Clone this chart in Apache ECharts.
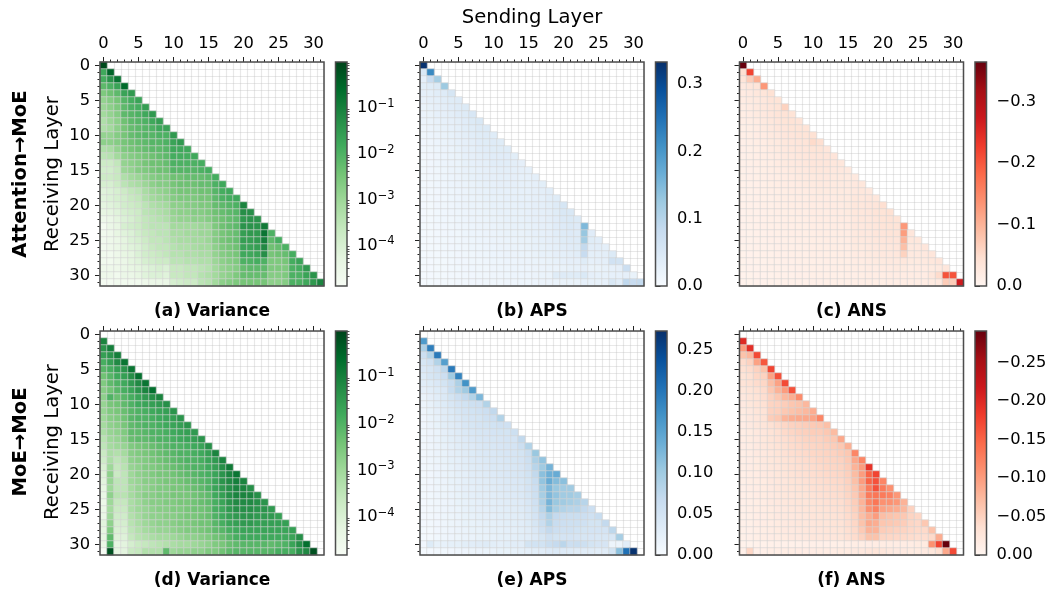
<!DOCTYPE html>
<html><head><meta charset="utf-8">
<script src="https://cdn.jsdelivr.net/npm/echarts@6/dist/echarts.min.js"></script>
<style>html,body{margin:0;padding:0;background:#fff}#c{width:1052px;height:595px}</style>
</head><body><div id="c"></div>
<script>
// Variance rows: log10(variance) in tenths. APS rows: thousandths. ANS rows: magnitude in thousandths (values are negative).
const varianceAttention=[
[-1],[-18,-5],[-19,-14,-8],[-22,-20,-17,-6],[-26,-24,-22,-17,-15],[-29,-27,-25,-21,-19,-17],
[-30,-28,-26,-22,-20,-19,-16],[-31,-29,-27,-22,-21,-20,-18,-15],[-33,-30,-28,-24,-22,-21,-20,-18,-16],
[-33,-31,-28,-25,-23,-22,-21,-20,-18,-17],[-29,-29,-27,-25,-23,-22,-21,-21,-20,-20,-15],
[-28,-28,-27,-25,-24,-23,-22,-21,-21,-20,-17,-15],[-33,-32,-29,-26,-25,-24,-23,-22,-22,-21,-18,-18,-18],
[-35,-34,-31,-28,-27,-26,-25,-24,-23,-22,-19,-19,-19,-18],[-38,-38,-36,-29,-28,-27,-25,-24,-24,-23,-20,-20,-20,-20,-19],
[-39,-39,-37,-30,-29,-27,-26,-25,-24,-24,-21,-21,-21,-21,-20,-19],
[-38,-38,-37,-33,-31,-30,-28,-27,-26,-26,-24,-24,-23,-23,-23,-22,-19],
[-40,-40,-38,-35,-33,-32,-30,-28,-27,-27,-25,-24,-24,-24,-23,-23,-20,-18],
[-42,-41,-40,-38,-36,-35,-32,-30,-29,-28,-26,-25,-25,-25,-24,-24,-21,-19,-18],
[-42,-41,-40,-39,-37,-36,-33,-31,-30,-29,-27,-26,-26,-26,-25,-25,-22,-20,-19,-18],
[-43,-42,-41,-39,-38,-37,-35,-33,-32,-31,-28,-28,-27,-27,-26,-26,-23,-22,-21,-20,-11],
[-44,-43,-42,-40,-39,-38,-35,-34,-33,-32,-29,-28,-28,-27,-27,-26,-24,-23,-22,-21,-13,-13],
[-46,-45,-43,-41,-40,-38,-36,-35,-34,-33,-30,-29,-29,-28,-28,-27,-25,-24,-23,-22,-15,-14,-14],
[-48,-45,-44,-40,-39,-38,-36,-35,-35,-35,-31,-31,-31,-31,-30,-30,-26,-24,-23,-22,-14,-14,-14,-9],
[-47,-46,-44,-42,-41,-39,-37,-36,-35,-35,-32,-32,-31,-31,-30,-30,-27,-25,-24,-23,-16,-15,-15,-8,-20],
[-47,-46,-45,-43,-41,-40,-38,-36,-36,-35,-33,-32,-32,-31,-31,-30,-27,-25,-24,-23,-16,-16,-15,-10,-22,-19],
[-47,-46,-45,-43,-42,-41,-39,-37,-36,-36,-34,-33,-33,-32,-31,-31,-28,-26,-25,-24,-17,-17,-16,-12,-24,-23,-20],
[-47,-47,-46,-44,-43,-41,-39,-38,-37,-36,-34,-34,-33,-33,-32,-32,-29,-27,-26,-25,-18,-18,-17,-13,-25,-24,-23,-19],
[-47,-47,-46,-45,-43,-42,-40,-39,-38,-38,-35,-35,-34,-34,-33,-33,-30,-28,-27,-26,-20,-20,-19,-20,-26,-26,-25,-19,-17],
[-46,-46,-46,-45,-44,-43,-42,-41,-40,-41,-37,-37,-36,-36,-35,-34,-31,-29,-28,-27,-23,-22,-22,-22,-26,-26,-26,-20,-19,-15],
[-46,-46,-47,-45,-45,-44,-42,-41,-41,-42,-37,-37,-36,-36,-34,-33,-31,-29,-28,-26,-23,-23,-23,-23,-27,-27,-26,-20,-20,-17,-14],
[-48,-48,-47,-47,-47,-47,-46,-45,-45,-45,-40,-39,-38,-38,-35,-34,-31,-28,-27,-26,-25,-25,-25,-25,-28,-28,-27,-20,-20,-18,-15,-11]];
const apsAttention=[
[330],[50,220],[30,80,115],[35,40,45,125],[30,32,36,42,55],[25,30,32,36,40,42],[22,26,30,34,38,42,45],
[20,24,28,30,34,38,42,52],[18,22,25,28,30,34,38,45,50],[15,20,24,26,28,32,36,40,45,45],
[14,18,20,24,26,30,34,36,40,42,40],[12,15,18,22,25,28,30,34,38,40,42,40],[10,14,16,20,22,26,30,32,36,38,40,40,40],
[9,12,15,18,21,24,28,30,34,36,38,38,38,35],[9,12,15,18,20,22,26,28,30,32,36,36,36,34,30],
[8,12,14,16,20,22,25,26,28,30,32,34,34,32,30,28],[8,11,14,16,18,20,24,26,28,30,30,32,32,30,28,28,32],
[8,10,13,15,18,20,22,24,26,28,28,30,30,30,28,28,30,35],[8,10,12,15,16,18,20,24,25,26,28,28,28,28,28,28,30,34,36],
[8,10,12,14,16,18,20,22,24,26,26,26,28,28,28,28,30,32,36,40],[7,9,12,14,15,18,20,22,22,24,26,26,26,26,28,28,30,32,35,42,55],
[7,9,11,13,15,16,18,20,22,24,24,26,26,26,26,28,30,32,34,40,50,50],[7,9,11,13,14,16,18,20,20,22,24,24,26,26,26,28,30,30,34,38,46,48,45],
[6,8,10,12,14,15,16,18,20,20,22,24,24,26,26,26,28,30,32,38,44,46,44,150],
[6,8,10,12,13,14,16,18,18,20,20,22,24,24,24,26,28,28,30,36,42,44,42,130,38],
[6,8,10,11,12,14,15,16,18,18,20,20,22,22,24,24,26,28,30,34,40,42,42,120,40,36],
[6,8,9,11,12,13,14,16,16,18,18,20,20,22,22,24,26,26,28,32,36,38,40,85,36,36,32],
[6,8,9,10,11,12,14,14,15,16,18,18,20,20,22,22,24,26,26,30,32,34,36,80,32,32,34,45],
[6,7,8,9,10,12,12,14,14,15,16,16,18,18,20,20,22,22,24,26,28,30,30,40,28,30,32,65,62],
[5,7,8,9,10,11,12,13,14,14,15,16,16,18,18,18,20,20,22,22,24,26,26,30,24,24,26,28,30,72],
[5,7,8,9,10,10,11,12,14,14,15,15,16,18,18,18,20,22,22,40,42,40,40,48,30,28,26,28,28,30,24],
[5,6,7,8,9,10,10,12,12,14,14,14,15,15,16,16,18,20,20,22,24,24,24,28,26,26,28,50,36,90,80,85]];
const ansAttention=[
[365],[45,220],[35,70,105],[25,32,35,130],[22,25,30,35,42],[20,24,26,30,36,38],[18,22,26,30,34,38,62],
[16,20,24,28,32,36,40,38],[15,18,22,26,30,34,38,40,36],[14,16,20,24,28,32,34,38,38,38],
[13,16,19,22,26,28,32,34,36,38,42],[12,15,18,20,24,26,30,32,34,36,52,45],[12,14,16,18,22,24,28,30,32,34,38,38,32],
[11,13,15,18,20,22,26,28,30,32,34,34,34,34],[11,13,15,16,18,22,24,26,28,30,32,32,32,30,30],
[10,12,14,16,18,20,22,24,26,28,30,30,30,28,28,26],[10,12,13,15,17,18,20,22,24,26,26,28,28,26,26,24,26],
[9,11,12,14,16,18,20,20,22,24,24,26,26,24,24,24,28,30],[9,11,12,14,15,16,18,20,20,22,22,24,24,24,24,24,28,30,28],
[9,10,12,13,14,16,18,18,20,20,22,22,22,22,24,24,30,30,32,30],[9,10,11,13,14,15,16,18,18,20,20,20,22,22,22,24,30,30,32,34,46],
[8,10,11,12,14,15,16,16,18,18,20,20,20,22,22,24,30,30,32,36,38,42],[8,10,11,12,13,14,15,16,16,18,18,20,20,20,22,22,28,30,30,34,38,40,38],
[8,9,10,12,13,14,15,15,16,16,18,18,18,20,20,22,28,28,30,32,36,38,38,130],
[8,9,10,11,12,13,14,15,15,16,16,18,18,18,20,20,26,28,28,32,34,36,36,125,32],
[8,9,10,11,12,12,13,14,15,15,16,16,18,18,18,20,26,26,28,30,32,34,34,100,30,30],
[7,9,10,10,11,12,13,13,14,15,15,16,16,18,18,18,24,24,26,28,30,30,32,85,28,28,32],
[7,8,9,10,11,12,12,13,14,14,15,15,16,16,18,18,22,22,24,26,28,28,30,62,26,26,28,32],
[7,8,9,9,10,11,12,12,13,13,14,14,15,15,16,16,20,20,22,24,24,26,26,30,24,24,26,30,34],
[7,8,8,9,10,10,11,12,12,13,13,14,14,15,15,16,18,18,20,20,22,22,24,24,20,22,22,24,26,30],
[6,7,8,8,9,10,10,11,12,12,13,13,14,14,14,15,15,16,18,18,18,20,20,20,20,20,20,30,50,205,205],
[6,7,8,8,9,9,10,10,11,11,12,12,13,13,14,14,15,15,16,16,16,18,18,18,18,18,20,24,28,70,70,270]];
const varianceMoE=[
[],[-11],[-14,-10],[-16,-14,-10],[-19,-16,-12,-8],[-21,-19,-16,-14,-8],[-24,-21,-18,-16,-13,-7],
[-26,-22,-20,-18,-15,-12,-8],[-27,-24,-21,-19,-17,-14,-11,-7],
[-28,-20,-23,-21,-19,-17,-15,-13,-11],
[-29,-25,-24,-22,-20,-18,-17,-16,-15,-13],
[-29,-26,-25,-23,-21,-20,-19,-18,-17,-16,-14],
[-30,-27,-26,-24,-21,-20,-20,-19,-18,-17,-16,-14],
[-31,-28,-27,-25,-22,-21,-20,-20,-19,-18,-17,-16,-14],
[-32,-29,-28,-26,-22,-22,-21,-20,-20,-19,-18,-17,-16,-15],
[-34,-30,-29,-27,-23,-22,-22,-21,-20,-20,-19,-18,-17,-16,-14],
[-35,-31,-30,-29,-26,-25,-24,-23,-22,-21,-20,-20,-19,-18,-17,-13],
[-37,-32,-33,-31,-27,-26,-25,-24,-23,-22,-21,-20,-20,-19,-18,-16,-11],
[-38,-32,-35,-33,-28,-27,-26,-25,-24,-23,-22,-21,-20,-20,-19,-17,-15,-11],
[-40,-30,-36,-34,-29,-28,-26,-26,-25,-24,-23,-22,-21,-20,-20,-18,-16,-13,-9],
[-41,-28,-37,-35,-30,-28,-27,-26,-25,-25,-24,-23,-22,-21,-20,-19,-17,-14,-11,-8],
[-42,-29,-35,-35,-30,-29,-27,-27,-26,-25,-25,-24,-23,-22,-21,-20,-17,-14,-12,-10,-11],
[-43,-30,-35,-35,-31,-29,-28,-27,-26,-26,-25,-25,-24,-23,-22,-20,-17,-15,-13,-11,-11,-13],
[-44,-28,-34,-34,-31,-29,-27,-27,-26,-26,-25,-25,-25,-24,-23,-22,-18,-16,-13,-11,-11,-11,-13],
[-45,-30,-36,-36,-32,-30,-28,-27,-27,-26,-26,-25,-25,-24,-23,-22,-19,-17,-14,-12,-12,-12,-13,-14],
[-44,-31,-37,-37,-32,-30,-29,-28,-27,-27,-26,-26,-25,-24,-24,-23,-19,-18,-15,-13,-13,-13,-14,-14,-15],
[-44,-30,-38,-38,-33,-31,-29,-28,-28,-27,-27,-26,-25,-25,-24,-23,-20,-18,-16,-15,-14,-14,-15,-15,-15,-16],
[-42,-28,-39,-39,-34,-32,-30,-29,-28,-28,-27,-26,-26,-25,-24,-24,-21,-19,-17,-16,-15,-15,-16,-16,-16,-16,-16],
[-43,-26,-40,-40,-35,-33,-31,-30,-29,-29,-28,-27,-26,-26,-25,-24,-22,-21,-19,-18,-17,-17,-17,-17,-17,-17,-17,-16],
[-43,-22,-41,-41,-36,-34,-33,-32,-31,-31,-30,-29,-28,-28,-27,-26,-24,-23,-21,-19,-18,-18,-18,-18,-18,-18,-18,-17,-13],
[-44,-20,-43,-42,-39,-37,-36,-35,-34,-33,-32,-31,-31,-30,-29,-28,-26,-25,-23,-22,-21,-21,-21,-21,-22,-21,-20,-17,-13,-7],
[-48,-2,-43,-42,-37,-36,-33,-33,-33,-22,-30,-29,-29,-28,-28,-26,-26,-24,-22,-21,-21,-21,-21,-21,-21,-19,-19,-19,-14,-12,-2]];
const apsMoE=[
[],[160],[90,190],[60,85,195],[45,55,85,155],[40,45,55,75,195],[35,45,50,60,100,185],[30,35,40,50,65,90,170],
[25,30,35,40,65,85,100,160],[18,25,30,38,50,60,70,85,125],[15,22,28,35,42,48,52,58,60,85],
[12,20,25,32,38,45,48,52,55,60,72],[10,18,22,30,35,40,45,48,50,55,60,85],[10,16,20,28,32,36,42,45,48,50,52,55,55],
[9,14,18,25,30,34,38,42,45,46,48,50,50,58],[9,14,18,24,28,32,36,40,42,44,45,46,48,48,72],
[8,12,16,22,26,30,34,36,40,42,42,44,46,48,60,85],[8,12,16,20,25,28,32,35,38,40,40,42,44,46,50,62,105],
[8,12,15,20,24,26,30,34,36,38,40,40,42,45,48,58,90,110],[8,11,14,18,22,25,28,32,34,36,38,38,40,42,46,55,80,100,130],
[7,10,14,18,20,24,26,30,32,34,36,38,40,42,45,52,72,115,135,140],[7,10,13,16,20,22,26,28,30,32,34,36,38,40,42,50,65,110,140,120,115],
[7,10,12,15,18,22,25,26,28,30,32,34,36,38,40,48,60,100,125,105,100,100],
[7,9,12,15,18,20,24,26,28,28,30,32,34,36,38,45,58,95,125,110,100,100,95],
[6,9,11,14,16,20,22,24,26,28,28,30,32,34,36,42,55,90,130,105,100,95,90,80],
[6,8,11,14,16,18,22,24,25,26,28,28,30,32,34,40,52,80,120,95,85,80,80,70,60],
[6,8,10,13,15,18,20,22,24,25,26,28,28,30,32,38,48,70,90,70,65,62,62,60,55,65],
[6,8,10,12,15,16,20,20,22,24,24,26,28,28,30,35,45,62,85,65,60,58,58,55,50,50,70],
[5,7,10,12,14,16,18,20,20,22,24,24,26,26,28,32,40,55,70,60,55,55,52,50,48,48,48,75],
[5,7,9,12,14,15,18,18,20,20,22,24,24,26,28,30,36,45,55,50,48,48,46,45,44,42,42,42,95],
[10,35,22,22,24,24,28,30,32,34,28,26,28,30,30,50,52,52,62,68,78,60,62,58,50,46,46,15,15,30],
[4,6,8,9,10,12,14,15,16,18,18,20,20,22,24,26,28,30,36,38,36,34,32,32,32,30,32,50,115,205,270]];
const ansMoE=[
[],[200],[100,195],[65,75,170],[40,50,95,160],[35,40,50,65,175],[30,35,45,50,95,165],[30,35,40,45,70,95,170],
[25,30,35,40,60,80,100,165],[22,28,32,38,50,60,75,85,115],[20,25,30,35,48,50,55,62,65,75],
[18,22,28,32,50,52,60,65,70,75,85],[16,22,26,32,55,60,78,85,88,90,92,120],[15,20,24,28,35,40,45,50,52,55,58,60,68],
[14,18,22,26,32,36,42,46,50,52,55,55,60,72],[14,18,20,25,30,34,38,42,45,48,50,50,55,60,90],
[13,16,20,24,28,32,36,40,42,45,46,48,50,55,60,82],[12,16,20,22,26,30,34,38,40,42,45,46,48,50,55,60,120],
[12,15,18,22,25,28,32,35,38,40,42,45,46,48,50,58,90,120],[12,15,18,20,24,26,30,34,36,38,40,42,45,46,48,55,80,100,190],
[11,14,16,20,22,25,28,32,34,36,38,40,42,44,46,52,72,100,150,175],[11,14,16,18,22,24,26,30,32,34,36,38,40,42,44,50,68,100,150,165,120],
[10,13,15,18,20,24,26,28,30,32,34,36,38,40,42,48,62,90,130,165,130,110],
[10,12,15,18,20,22,25,26,28,30,32,34,36,38,40,46,58,85,130,135,130,125,105],
[10,12,14,16,20,22,24,26,28,28,30,32,34,36,38,44,55,80,120,135,110,110,105,80],
[9,12,14,16,18,20,22,24,26,28,28,30,32,34,36,42,52,75,110,125,95,90,85,75,50],
[9,11,13,15,18,20,22,22,24,26,28,28,30,32,34,40,48,70,85,100,70,65,62,60,48,45],
[9,11,13,15,16,18,20,22,24,24,26,28,28,30,32,38,45,65,90,85,62,60,58,55,46,44,60],
[8,10,12,14,16,18,20,20,22,24,24,26,28,28,30,36,42,58,80,80,55,52,50,48,44,42,42,65],
[8,10,12,14,15,16,18,20,20,22,24,24,26,26,28,34,40,50,65,65,46,45,44,42,40,38,38,42,85],
[6,6,7,7,8,8,8,9,9,10,10,10,10,11,11,12,14,14,15,16,16,16,16,16,16,18,18,110,175,291],
[8,45,10,10,12,12,14,14,15,15,15,16,16,16,18,18,20,22,26,28,26,22,20,20,18,18,20,24,35,90,170]];

const layers=Array.from({length:32},(_,i)=>String(i));
const greens=['#f7fcf5','#e5f5e0','#c7e9c0','#a1d99b','#74c476','#41ab5d','#238b45','#006d2c','#00441b'];
const blues=['#f7fbff','#deebf7','#c6dbef','#9ecae1','#6baed6','#4292c6','#2171b5','#08519c','#08306b'];
const reds=['#fff5f0','#fee0d2','#fcbba1','#fc9272','#fb6a4a','#ef3b2c','#cb181d','#a50f15','#67000d'];
const logMajor=[-4,-3,-2,-1];
const logMinorRaw=[2e-5,3e-5,4e-5,5e-5,6e-5,7e-5,8e-5,9e-5,2e-4,3e-4,4e-4,5e-4,6e-4,7e-4,8e-4,9e-4,2e-3,3e-3,4e-3,5e-3,6e-3,7e-3,8e-3,9e-3,2e-2,3e-2,4e-2,5e-2,6e-2,7e-2,8e-2,9e-2,2e-1,3e-1,4e-1,5e-1,6e-1,7e-1,8e-1,9e-1];
const logMinor=logMinorRaw.map(Math.log10);

const FONT='"DejaVu Sans"';
const TICK=16.3;
const panels=[
 {rows:varianceAttention,conv:v=>v/10,cmap:greens,min:-4.91,max:-0.015,ticks:logMajor,log:true,col:0,row:0,cap:'(a) Variance'},
 {rows:apsAttention,conv:v=>v/1000,cmap:blues,min:0,max:0.333,ticks:[0,0.1,0.2,0.3],dec:1,col:1,row:0,cap:'(b) APS'},
 {rows:ansAttention,conv:v=>-v/1000,cmap:reds,min:-0.365,max:0,rev:true,ticks:[-0.3,-0.2,-0.1,0],dec:1,col:2,row:0,cap:'(c) ANS'},
 {rows:varianceMoE,conv:v=>v/10,cmap:greens,min:-4.84,max:-0.03,ticks:logMajor,log:true,col:0,row:1,cap:'(d) Variance'},
 {rows:apsMoE,conv:v=>v/1000,cmap:blues,min:0,max:0.273,ticks:[0,0.05,0.1,0.15,0.2,0.25],dec:2,col:1,row:1,cap:'(e) APS'},
 {rows:ansMoE,conv:v=>-v/1000,cmap:reds,min:-0.291,max:0,rev:true,ticks:[-0.25,-0.2,-0.15,-0.1,-0.05,0],dec:2,col:2,row:1,cap:'(f) ANS'}
];
const lefts=[100,420,739.5], tops=[62,331], SIZE=224, cbarOff=235.5, cbarW=11.5;
const spine='#4d4d4d', tickCol='#222', textCol='#000';

const grid=[],xAxis=[],yAxis=[],series=[],visualMap=[],graphic=[];
const isMajor=i=>i%5===0;
panels.forEach(p=>{
  const L=lefts[p.col],T=tops[p.row];
  const borderStyle={show:true,z:3,backgroundColor:'transparent',borderColor:spine,borderWidth:1.5};
  const g=grid.length;
  grid.push({left:L,top:T,width:SIZE,height:SIZE,...borderStyle});
  const xi=xAxis.length,yi=yAxis.length;
  const minorBase={type:'category',data:layers,gridIndex:g,axisLine:{show:false},axisLabel:{show:false}};
  const splitLine={show:true,interval:0,lineStyle:{color:'rgba(190,190,190,0.36)',width:1.2}};
  xAxis.push({...minorBase,position:'top',
    axisTick:{show:true,alignWithLabel:true,interval:0,length:2.5,lineStyle:{color:tickCol,width:1}},splitLine});
  xAxis.push({...minorBase,position:'top',splitLine:{show:false},
    axisTick:{show:true,alignWithLabel:true,interval:isMajor,length:5,lineStyle:{color:tickCol,width:1}},
    axisLabel:{show:p.row===0,interval:isMajor,margin:10,fontFamily:FONT,fontSize:TICK,color:textCol}});
  yAxis.push({...minorBase,position:'left',inverse:true,
    axisTick:{show:true,alignWithLabel:true,interval:0,length:2.5,lineStyle:{color:tickCol,width:1}},splitLine});
  yAxis.push({...minorBase,position:'left',inverse:true,splitLine:{show:false},
    axisTick:{show:true,alignWithLabel:true,interval:isMajor,length:5,lineStyle:{color:tickCol,width:1}},
    axisLabel:{show:p.col===0,interval:isMajor,margin:10,fontFamily:FONT,fontSize:TICK,color:textCol}});
  const data=[];
  p.rows.forEach((row,r)=>row.forEach((v,c)=>data.push([c,r,p.conv(v)])));
  visualMap.push({show:false,type:'continuous',seriesIndex:series.length,dimension:2,min:p.min,max:p.max,
    inRange:{color:p.rev?[...p.cmap].reverse():p.cmap}});
  series.push({type:'heatmap',xAxisIndex:xi,yAxisIndex:yi,data,animation:false,progressive:0,silent:true,
    itemStyle:{borderColor:'rgba(212,212,212,0.6)',borderWidth:1},emphasis:{disabled:true}});

  // colour bar
  const cg=grid.length;
  grid.push({left:L+cbarOff,top:T,width:cbarW,height:SIZE,...borderStyle});
  const cx=xAxis.length,cy=yAxis.length;
  xAxis.push({type:'value',gridIndex:cg,min:0,max:1,show:false});
  const fmt=p.log?(v=>'{a|10}{b|\u2212'+Math.abs(Math.round(v))+'}'):(v=>(v<0?'\u2212':'')+Math.abs(v).toFixed(p.dec));
  yAxis.push({type:'value',gridIndex:cg,position:'right',inverse:!!p.rev,min:p.min,max:p.max,splitLine:{show:false},axisLine:{show:false},
    axisTick:{show:true,length:5,customValues:p.ticks,lineStyle:{color:tickCol,width:1}},
    axisLabel:{show:true,customValues:p.ticks,margin:10,formatter:fmt,fontFamily:FONT,fontSize:TICK,color:textCol,
      rich:{a:{fontFamily:FONT,fontSize:TICK,color:textCol,verticalAlign:'bottom'},
            b:{fontFamily:FONT,fontSize:11.5,color:textCol,verticalAlign:'top',padding:[0,0,6,0]}}}});
  if(p.log){
    yAxis.push({type:'value',gridIndex:cg,position:'right',min:p.min,max:p.max,splitLine:{show:false},axisLine:{show:false},
      axisLabel:{show:false},axisTick:{show:true,length:2.5,customValues:logMinor,lineStyle:{color:tickCol,width:0.8}}});
  }
  const stops=p.cmap.map((c,i)=>({offset:i/(p.cmap.length-1),color:c}));
  series.push({type:'custom',xAxisIndex:cx,yAxisIndex:cy,silent:true,animation:false,data:[[0,0]],
    renderItem:(params)=>{const b=params.coordSys;
      return {type:'rect',shape:{x:b.x,y:b.y,width:b.width,height:b.height},
        style:{fill:{type:'linear',x:0,y:1,x2:0,y2:0,colorStops:stops}}};}});

  graphic.push({type:'text',silent:true,x:L+SIZE/2,y:T+SIZE+25.5,
    style:{text:p.cap,align:'center',verticalAlign:'middle',font:'bold 17px '+FONT,fill:textCol}});
});
const label=(text,x,y,rot,font)=>graphic.push({type:'text',silent:true,x,y,rotation:rot,
  style:{text,align:'center',verticalAlign:'middle',font,fill:textCol}});
label('Sending Layer',532,18,0,'19.6px '+FONT);
label('Receiving Layer',53,174,Math.PI/2,'19.6px '+FONT);
label('Receiving Layer',53,442,Math.PI/2,'19.6px '+FONT);
label('Attention→MoE',21,174,Math.PI/2,'bold 19.6px '+FONT);
label('MoE→MoE',21,442,Math.PI/2,'bold 19.6px '+FONT);

const chart=echarts.init(document.getElementById('c'),null,{renderer:'canvas'});
chart.setOption({animation:false,backgroundColor:'#fff',grid,xAxis,yAxis,visualMap,series,graphic});
</script></body></html>
